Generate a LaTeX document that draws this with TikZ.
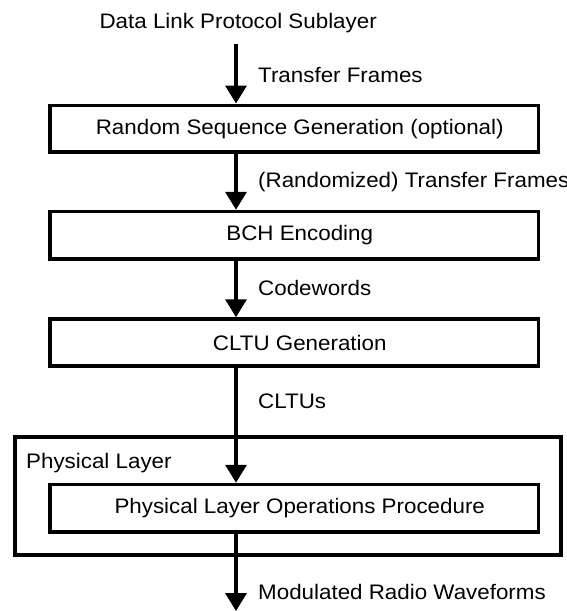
\documentclass[tikz,border=0pt]{standalone}
\usepackage{fontspec}
\setmainfont[FakeStretch=1.065]{Liberation Sans}
\usetikzlibrary{arrows.meta}
\begin{document}
\begin{tikzpicture}[x=1pt,y=-1pt,
  every node/.style={font=\fontsize{21}{25}\selectfont},
  lbl/.style={inner sep=0pt, anchor=base west},
  box/.style={draw, line width=3.5pt, inner sep=0pt, minimum width=488.5pt,
     execute at begin node={\hspace*{11pt}}},
  outerbox/.style={draw, line width=3.5pt, inner sep=0pt, minimum width=546pt, minimum height=118pt},
  arr/.style={line width=3.5pt, -{Triangle[width=21pt,length=18pt]}}]
\clip (0,0) rectangle (567,611);
\fill[white] (0,0) rectangle (567,611);

\coordinate (ax) at (236,0);
\coordinate (start) at (236,43.5);
\coordinate (stop) at (236,611);

\node[inner sep=0pt, anchor=base east] (title) at (377,28.5) {Data Link Protocol Sublayer};

\node[box, minimum height=46.7pt] (b1) at (294.25,128.6) {Random Sequence Generation (optional)};
\node[box, minimum height=47.5pt] (b2) at (294.25,235.25) {BCH Encoding};
\node[box, minimum height=47pt] (b3) at (294.25,342.5) {CLTU Generation};
\node[outerbox] (phys) at (288,496) {};
\node[lbl] (physlbl) at (26,468) {Physical Layer};
\node[box, minimum height=47.5pt] (b4) at (294.25,508.25) {Physical Layer Operations Procedure};

\draw[arr] (start) -- (b1.north -| ax);
\draw[arr] (b1.south -| ax) -- (b2.north -| ax);
\draw[arr] (b2.south -| ax) -- (b3.north -| ax);
\draw[arr] (b3.south -| ax) -- (b4.north -| ax);
\draw[arr] (b4.south -| ax) -- (stop);

\node[lbl] (l1) at (258,82) {Transfer Frames};
\node[lbl] (l2) at (258,187.5) {(Randomized) Transfer Frames};
\node[lbl] (l3) at (258,295.5) {Codewords};
\node[lbl] (l4) at (258,408) {CLTUs};
\node[lbl] (l5) at (258,599) {Modulated Radio Waveforms};
\end{tikzpicture}
\end{document}
